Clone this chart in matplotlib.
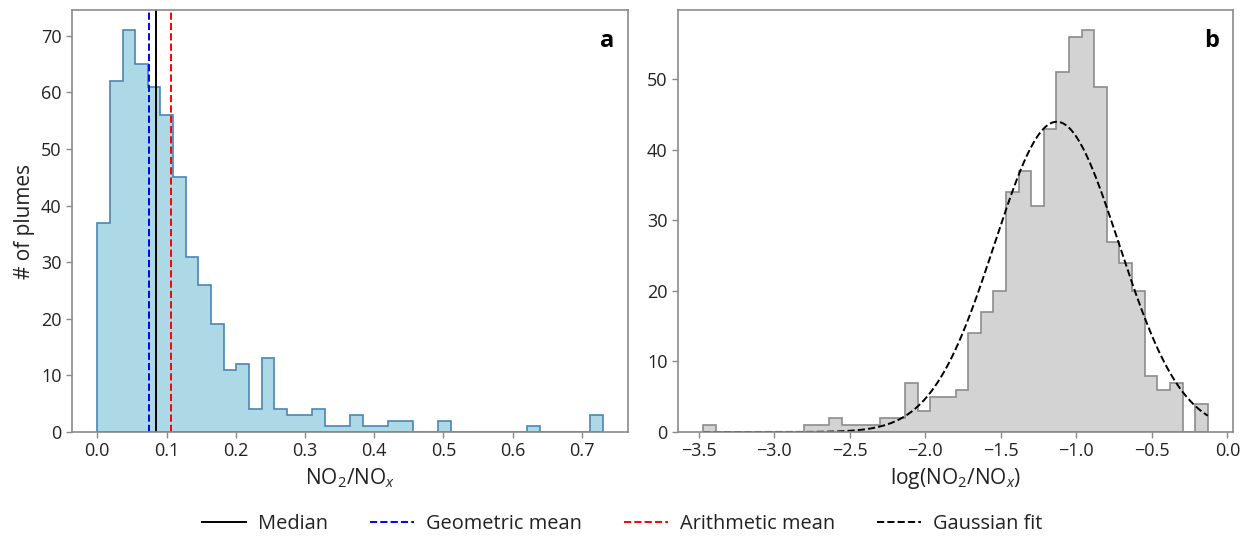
import numpy as np
import matplotlib
matplotlib.use("Agg")
import matplotlib.pyplot as plt
from matplotlib.lines import Line2D

plt.rcParams['font.family'] = ['Open Sans', 'DejaVu Sans']
plt.rcParams['mathtext.fontset'] = 'custom'
plt.rcParams['mathtext.rm'] = 'Open Sans'
plt.rcParams['mathtext.it'] = 'Open Sans:italic'
plt.rcParams['axes.unicode_minus'] = True

# ---- Panel a: NO2/NOx histogram (40 bins from 0 to 0.73) ----
a_range = (0.0, 0.73)
a_counts = [37, 62, 71, 65, 61, 56, 45, 31, 26, 19,
            11, 12, 4, 13, 4, 3, 3, 4, 1, 1,
            3, 1, 1, 2, 2, 0, 0, 2, 0, 0,
            0, 0, 0, 0, 1, 0, 0, 0, 0, 3]
median_val = 0.085
geo_mean = 0.074
arith_mean = 0.107

# ---- Panel b: log(NO2/NOx) histogram (40 bins) ----
b_range = (-3.471, -0.13)
b_counts = [1, 0, 0, 0, 0, 0, 0, 0, 1, 1,
            2, 1, 1, 1, 2, 2, 7, 3, 5, 5,
            6, 14, 17, 20, 34, 37, 32, 43, 51, 56,
            57, 49, 27, 24, 20, 8, 6, 7, 0, 4]
fit_mu = -1.13
fit_sigma = 0.412

W, H = 1245, 537
fig = plt.figure(figsize=(W / 100, H / 100), dpi=100)
axa = fig.add_axes([72 / W, (H - 432) / H, 556 / W, 422 / H])
axb = fig.add_axes([678 / W, (H - 432) / H, 555 / W, 422 / H])

spine_col = '#8a8a8a'
for ax in (axa, axb):
    for s in ax.spines.values():
        s.set_color(spine_col)
        s.set_linewidth(1.2)
    ax.tick_params(axis='both', colors=spine_col, labelcolor='#222222',
                   labelsize=13, length=4, width=1)

# Panel a
a_edges = np.linspace(a_range[0], a_range[1], len(a_counts) + 1)
axa.hist(a_edges[:-1], bins=a_edges, weights=a_counts, histtype='stepfilled',
         facecolor='#add8e6', edgecolor='#4a86b4', linewidth=1.2)
axa.axvline(median_val, color='black', lw=1.4, ls='-')
axa.axvline(geo_mean, color='blue', lw=1.4, ls='--')
axa.axvline(arith_mean, color='red', lw=1.4, ls='--')
axa.set_xlabel(r'NO$_2$/NO$_x$', fontsize=15, color='#222222')
axa.set_ylabel('# of plumes', fontsize=15, color='#222222')
axa.set_yticks([0, 10, 20, 30, 40, 50, 60, 70])
axa.set_xticks([0.0, 0.1, 0.2, 0.3, 0.4, 0.5, 0.6, 0.7])
axa.text(0.975, 0.955, 'a', transform=axa.transAxes, ha='right', va='top',
         fontsize=17, fontweight='bold')

# Panel b
b_edges = np.linspace(b_range[0], b_range[1], len(b_counts) + 1)
axb.hist(b_edges[:-1], bins=b_edges, weights=b_counts, histtype='stepfilled',
         facecolor='#d3d3d3', edgecolor='#8c8c8c', linewidth=1.2)
bw = b_edges[1] - b_edges[0]
n_tot = sum(b_counts)
xs = np.linspace(b_range[0], b_range[1], 300)
ys = n_tot * bw / (fit_sigma * np.sqrt(2 * np.pi)) * np.exp(-0.5 * ((xs - fit_mu) / fit_sigma) ** 2)
axb.plot(xs, ys, color='black', ls='--', lw=1.4)
axb.set_xlabel(r'log(NO$_2$/NO$_x$)', fontsize=15, color='#222222')
axb.set_xticks([-3.5, -3.0, -2.5, -2.0, -1.5, -1.0, -0.5, 0.0])
axb.set_yticks([0, 10, 20, 30, 40, 50])
axb.text(0.975, 0.955, 'b', transform=axb.transAxes, ha='right', va='top',
         fontsize=17, fontweight='bold')

handles = [Line2D([], [], color='black', ls='-', lw=1.4),
           Line2D([], [], color='blue', ls='--', lw=1.4),
           Line2D([], [], color='red', ls='--', lw=1.4),
           Line2D([], [], color='black', ls='--', lw=1.4)]
labels = ['Median', 'Geometric mean', 'Arithmetic mean', 'Gaussian fit']
leg = fig.legend(handles, labels, loc='center', bbox_to_anchor=(0.5, (H - 524) / H),
                 ncol=4, frameon=False, fontsize=14.4, columnspacing=2.1,
                 handlelength=2.2, handletextpad=0.6)
for t in leg.get_texts():
    t.set_color('#222222')

fig.savefig('out.png', dpi=100)
